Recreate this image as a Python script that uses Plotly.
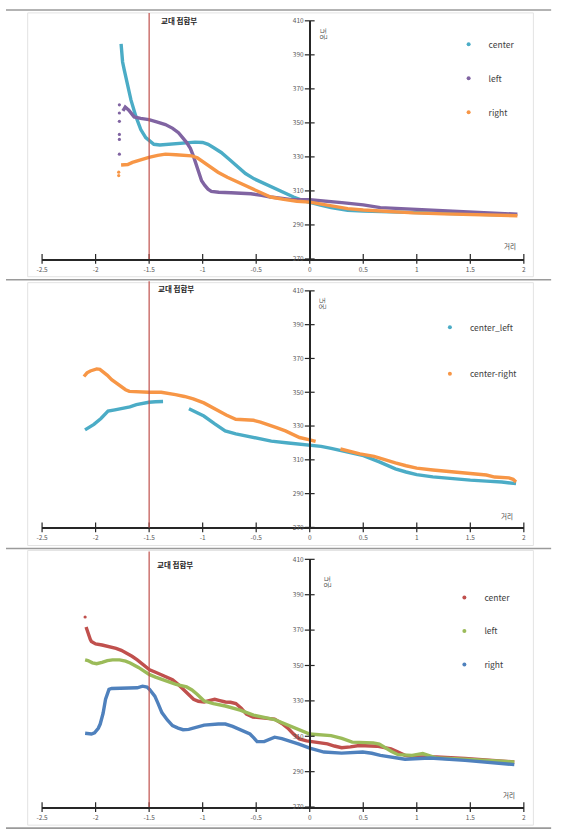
import plotly.graph_objects as go

# ---------------- data ----------------
X_TICKS = [-2.5, -2, -1.5, -1, -0.5, 0, 0.5, 1, 1.5, 2]
X_TICK_LABELS = ["-2.5", "-2", "-1.5", "-1", "-0.5", "0", "0.5", "1", "1.5", "2"]
Y_TICKS = [270, 290, 310, 330, 350, 370, 390, 410]
Y_TICK_LABELS = ["270", "290", "310", "330", "350", "370", "390", "410"]
BOUNDARY_X = -1.5
TITLE_TEXT = "교대 접합부"
X_TITLE = "거리"
Y_TITLE = "온도"

# Panel 1
p1_center_x = [-1.762, -1.748, -1.732, -1.702, -1.67, -1.624, -1.578, -1.532, -1.50, -1.456, -1.40, -1.30,
               -1.195, -1.072, -1.00, -0.949, -0.90, -0.827, -0.75, -0.673, -0.60, -0.519, -0.42, -0.335,
               -0.25, -0.151, -0.07, 0.0, 0.1, 0.2, 0.355, 0.5, 0.75, 0.97, 1.25, 1.5, 1.75, 1.93]
p1_center_y = [396.5, 385.8, 381, 372.3, 363.5, 353.8, 346.1, 341.3, 339.5, 337.4, 337, 337.5,
               338.4, 338.7, 338.5, 337.4, 335.5, 332.6, 328.5, 323.9, 320.2, 317.1, 314.2, 311.3,
               308.8, 306.4, 304.5, 303.2, 301.6, 300.2, 298.6, 298.1, 297.6, 297.1, 296.6, 296.2, 296, 295.8]
p1_left_x = [-1.745, -1.723, -1.69, -1.64, -1.58, -1.502, -1.43, -1.348, -1.28, -1.226, -1.149, -1.115,
             -1.087, -1.06, -1.041, -1.01, -0.98, -0.95, -0.919, -0.85, -0.735, -0.55, -0.45, -0.366,
             -0.182, 0.0, 0.3, 0.5, 0.66, 1.0, 1.3, 1.5, 1.767, 1.94]
p1_left_y = [357, 359.3, 357.5, 353.5, 352.6, 351.9, 350.6, 349, 346.8, 344.2, 338.4, 335,
             330.6, 325.5, 321, 316, 313.2, 311, 309.7, 309.2, 308.9, 308.3, 307.4, 306.4,
             305.0, 304.8, 303.1, 301.8, 300.2, 299.2, 298.3, 297.7, 296.7, 296.3]
p1_left_dots_x = [-1.778, -1.778, -1.778, -1.778, -1.778, -1.778]
p1_left_dots_y = [331.6, 340.3, 343.2, 350.9, 355.8, 360.6]
p1_right_x = [-1.762, -1.70, -1.656, -1.58, -1.502, -1.42, -1.348, -1.25, -1.17, -1.103, -1.05, -1.011,
              -0.93, -0.857, -0.77, -0.673, -0.58, -0.489, -0.43, -0.366, -0.243, -0.12, 0.0, 0.2,
              0.355, 0.5, 0.75, 0.97, 1.25, 1.5, 1.767, 1.94]
p1_right_y = [325.2, 325.5, 326.8, 328.3, 329.7, 330.9, 331.6, 331.3, 330.8, 330.6, 329.5, 327.7,
              324.3, 321, 318, 315.2, 312.4, 309.7, 308, 306.4, 305, 303.9, 303.4, 301.4,
              299.6, 298.8, 297.8, 297.1, 296.5, 296, 295.5, 295.4]
p1_right_dots_x = [-1.784, -1.784]
p1_right_dots_y = [319, 321]

# Panel 2 (None = gap in the series)
p2_cl_x = [-2.099, -2.05, -2.016, -1.95, -1.884, -1.82, -1.751, -1.68, -1.619, -1.56, -1.503, -1.44, -1.37,
           None,
           -1.128, -1.06, -0.989, -0.89, -0.79, -0.69, -0.591, -0.48, -0.359, -0.2, 0.0, 0.106, 0.2,
           0.304, 0.4, 0.502, 0.65, 0.8, 0.9, 0.999, 1.15, 1.297, 1.5, 1.65, 1.794, 1.927]
p2_cl_y = [327.7, 329.7, 331, 334.5, 338.8, 339.6, 340.2, 341.3, 342.7, 343.5, 344.1, 344.4, 344.5,
           None,
           340.2, 338.2, 335.9, 331.4, 327.1, 325.4, 324.2, 322.6, 321.1, 320, 318.8, 318, 316.8,
           315.4, 314, 312.5, 308.8, 304.7, 302.8, 301.2, 299.9, 298.9, 298, 297.4, 296.9, 295.9]
p2_cr_x = [-2.109, -2.08, -2.049, -2.02, -1.99, -1.96, -1.933, -1.89, -1.85, -1.81, -1.768, -1.72, -1.685,
           -1.585, -1.503, -1.387, -1.32, -1.254, -1.17, -1.088, -0.989, -0.92, -0.857, -0.78, -0.691,
           -0.60, -0.525, -0.46, -0.393, -0.31, -0.227, -0.16, -0.095, 0.0, 0.055,
           None,
           0.287, 0.38, 0.469, 0.601, 0.7, 0.8, 0.9, 0.999, 1.15, 1.297, 1.45, 1.562, 1.65, 1.728,
           1.8, 1.861, 1.9, 1.927]
p2_cr_y = [359.3, 361.5, 362.6, 363.4, 363.8, 363.5, 362.2, 360, 357.4, 355.5, 353.5, 351.5, 350.5,
           350, 350, 350, 349.4, 348.6, 347.5, 346.1, 343.7, 341.2, 338.8, 336.5, 334,
           333.8, 333.4, 332.3, 331, 329, 327.1, 325.2, 323.2, 321.8, 320.9,
           None,
           316.4, 315, 313.5, 312.1, 310, 308.2, 306.5, 305.1, 304, 303.2, 302.5, 301.8, 301, 299.8,
           299.5, 299.3, 298.5, 296.9]

# Panel 3
p3_center_dots_x = [-2.098]
p3_center_dots_y = [377.4]
p3_center_x = [-2.089, -2.075, -2.065, -2.05, -2.039, -2.0, -1.94, -1.87, -1.809, -1.76, -1.71, -1.66,
               -1.611, -1.55, -1.496, -1.44, -1.381, -1.33, -1.282, -1.23, -1.183, -1.13, -1.085, -1.04,
               -0.986, -0.94, -0.887, -0.84, -0.788, -0.74, -0.69, -0.64, -0.591, -0.53, -0.459, -0.39,
               -0.328, -0.26, -0.196, -0.15, -0.097, -0.03, 0.034, 0.166, 0.23, 0.298, 0.38, 0.462,
               0.627, 0.7, 0.759, 0.82, 0.89, 0.989, 1.187, 1.45, 1.7, 1.911]
p3_center_y = [371.8, 369, 367.2, 364.8, 363.5, 362.2, 361.6, 360.8, 359.7, 358.6, 357, 355.2,
               353.2, 350.4, 347.6, 346.2, 344.8, 343.6, 342, 339.4, 336.5, 333.5, 330.9, 329.8,
               329.4, 330.2, 330.9, 330.2, 329.4, 329.2, 328.5, 325.8, 322.5, 320.9, 320.6, 320.4,
               319.7, 317.2, 314.1, 311.2, 308.5, 307.4, 307, 305.7, 304.5, 303.5, 304, 304.8,
               304.4, 303.8, 302.9, 301.2, 299.2, 298.3, 298.3, 297.4, 296.3, 295.5]
p3_left_x = [-2.098, -2.072, -2.03, -1.99, -1.94, -1.89, -1.842, -1.776, -1.72, -1.677, -1.6, -1.55,
             -1.496, -1.44, -1.381, -1.31, -1.249, -1.15, -1.10, -1.052, -0.986, -0.9, -0.788, -0.65,
             -0.525, -0.328, -0.196, -0.1, 0.0, 0.199, 0.3, 0.397, 0.594, 0.65, 0.693, 0.76, 0.825,
             0.956, 1.055, 1.12, 1.187, 1.45, 1.7, 1.911]
p3_left_y = [353.2, 352.8, 351.5, 351, 351.8, 352.8, 353.2, 353.2, 352.5, 351.4, 348.9, 346.8,
             344.8, 343.4, 342, 340.8, 339.3, 337.9, 336.2, 333.7, 329.9, 328.5, 327.1, 324.8,
             322, 319.4, 316, 313.6, 311.3, 310.4, 308.8, 306.7, 306.3, 305.6, 303.9, 301.5, 299.6,
             299.2, 300.2, 298.8, 297.7, 297, 296.1, 295.5]
p3_right_x = [-2.098, -2.07, -2.039, -2.01, -1.99, -1.975, -1.957, -1.93, -1.907, -1.89, -1.875, -1.85,
              -1.776, -1.7, -1.611, -1.562, -1.52, -1.496, -1.47, -1.447, -1.42, -1.381, -1.33, -1.282,
              -1.23, -1.183, -1.13, -1.085, -0.986, -0.854, -0.788, -0.72, -0.657, -0.558, -0.52,
              -0.492, -0.426, -0.38, -0.328, -0.26, -0.196, -0.1, 0.0, 0.133, 0.298, 0.495, 0.58,
              0.66, 0.89, 1.121, 1.45, 1.7, 1.911]
p3_right_y = [311.7, 311.4, 311.3, 312, 313.2, 314.5, 316.9, 323, 330.9, 334.5, 336.5, 337,
              337, 337.2, 337.4, 338.3, 337.8, 336.5, 334.8, 332.7, 329, 323.4, 319.2, 316,
              314.6, 313.7, 313.9, 314.5, 316.3, 316.9, 316.9, 315.6, 314.1, 311.3, 309,
              307, 307, 308.4, 309.5, 308.7, 307.6, 305.6, 303.3, 301.1, 300.5, 301.1, 300.4,
              299.2, 297, 297.7, 296.4, 295.2, 294]

# ---------------- styling ----------------
W, H = 563, 840
TEAL, PURPLE, ORANGE = "#4BACC6", "#8064A2", "#F79646"
RED, GREEN, BLUE = "#C0504D", "#9BBB59", "#4F81BD"
AXIS_COLOR = "#262626"
FONT = "Noto Sans CJK KR"
LW = 3.4

def py(px):
    return 1 - px / H

def pxx(px):
    return px / W

X_DOMAIN = [pxx(36.6), pxx(525.3)]
Y_AXIS_POS = pxx(308.1)
PANELS = [
    dict(top=15, bot=256, box_top=7, box_bot=274, leg_x=449, leg_y=24, gap=15,
         title=(175, 15), ytitle=(321.5, 28.5), xtitle=(511, 243), red_top=7),
    dict(top=288.3, bot=527.7, box_top=280, box_bot=546, leg_x=430, leg_y=310.5, gap=27.5,
         title=(172, 286), ytitle=(320.6, 301), xtitle=(508, 515.7), red_top=278.5),
    dict(top=560, bot=810.7, box_top=551, box_bot=829, leg_x=444.7, leg_y=584, gap=14.5,
         title=(171, 565.7), ytitle=(325, 582.5), xtitle=(510, 798), red_top=552),
]

series = [
    [("center", TEAL, p1_center_x, p1_center_y, None, None),
     ("left", PURPLE, p1_left_x, p1_left_y, p1_left_dots_x, p1_left_dots_y),
     ("right", ORANGE, p1_right_x, p1_right_y, p1_right_dots_x, p1_right_dots_y)],
    [("center_left", TEAL, p2_cl_x, p2_cl_y, None, None),
     ("center-right", ORANGE, p2_cr_x, p2_cr_y, None, None)],
    [("center", RED, p3_center_x, p3_center_y, p3_center_dots_x, p3_center_dots_y),
     ("left", GREEN, p3_left_x, p3_left_y, None, None),
     ("right", BLUE, p3_right_x, p3_right_y, None, None)],
]

fig = go.Figure()
shapes = []
annotations = []
layout = {}

def note(text, xpx, ypx, size, color, angle=0):
    return dict(text=text, x=pxx(xpx), y=py(ypx), xref="paper", yref="paper",
                xanchor="center", yanchor="middle", showarrow=False, textangle=angle,
                font=dict(size=size, color=color, family=FONT))

for i, (panel, ser) in enumerate(zip(PANELS, series), start=1):
    xs = "x" if i == 1 else f"x{i}"
    ys = "y" if i == 1 else f"y{i}"
    leg = "legend" if i == 1 else f"legend{i}"
    for k, (name, color, x, y, dx, dy) in enumerate(ser):
        fig.add_trace(go.Scatter(x=x, y=y, mode="lines", line=dict(color=color, width=LW),
                                 xaxis=xs, yaxis=ys, showlegend=False, legendgroup=f"{i}{k}",
                                 hoverinfo="skip"))
        if dx is not None:
            fig.add_trace(go.Scatter(x=dx, y=dy, mode="markers",
                                     marker=dict(color=color, size=3.2),
                                     xaxis=xs, yaxis=ys, showlegend=False, hoverinfo="skip"))
        fig.add_trace(go.Scatter(x=[None], y=[None], mode="markers", name=name,
                                 marker=dict(color=color, size=4),
                                 xaxis=xs, yaxis=ys, legend=leg, legendgroup=f"{i}{k}",
                                 showlegend=True))
    # crossing tick marks
    fig.add_trace(go.Scatter(x=[0] * len(Y_TICKS), y=Y_TICKS, mode="markers",
                             marker=dict(symbol="line-ew", size=7, line=dict(color=AXIS_COLOR, width=1.2)),
                             xaxis=xs, yaxis=ys, showlegend=False, cliponaxis=False, hoverinfo="skip"))
    fig.add_trace(go.Scatter(x=X_TICKS, y=[Y_TICKS[0]] * len(X_TICKS), mode="markers",
                             marker=dict(symbol="line-ns", size=7, line=dict(color=AXIS_COLOR, width=1.2)),
                             xaxis=xs, yaxis=ys, showlegend=False, cliponaxis=False, hoverinfo="skip"))

    xname = "xaxis" if i == 1 else f"xaxis{i}"
    yname = "yaxis" if i == 1 else f"yaxis{i}"
    layout[xname] = dict(domain=X_DOMAIN, range=[-2.5, 2], anchor=ys, tickmode="array",
                         tickvals=X_TICKS, ticktext=X_TICK_LABELS, ticks="", showline=True,
                         linecolor=AXIS_COLOR, linewidth=1.5, showgrid=False, zeroline=False,
                         tickfont=dict(size=6.5, color="#595959", family=FONT), ticklabelstandoff=3,
                         fixedrange=True)
    layout[yname] = dict(domain=[py(panel["bot"]), py(panel["top"])], range=[270, 410],
                         anchor="free", position=Y_AXIS_POS, tickmode="array",
                         tickvals=Y_TICKS, ticktext=Y_TICK_LABELS, ticks="", showline=True,
                         linecolor=AXIS_COLOR, linewidth=1.5, showgrid=False, zeroline=False,
                         tickfont=dict(size=6.5, color="#595959", family=FONT), ticklabelstandoff=4,
                         fixedrange=True)
    layout[leg] = dict(x=pxx(panel["leg_x"]), y=py(panel["leg_y"]), xanchor="left", yanchor="top",
                       bgcolor="rgba(0,0,0,0)", font=dict(size=8.5, color="#404040", family=FONT),
                       tracegroupgap=panel["gap"], traceorder="grouped")

    shapes.append(dict(type="rect", xref="paper", yref="paper", x0=pxx(22), x1=pxx(535),
                       y0=py(panel["box_bot"]), y1=py(panel["box_top"]),
                       line=dict(color="#E3E3E3", width=1), layer="below"))
    shapes.append(dict(type="line", xref=xs, yref="paper", x0=BOUNDARY_X, x1=BOUNDARY_X,
                       y0=py(panel["bot"]), y1=py(panel["red_top"]),
                       line=dict(color="#C0504D", width=1.2)))
    tx, ty = panel["title"]
    annotations.append(note(f"<b>{TITLE_TEXT}</b>", tx, ty, 7.5, "#262626"))
    yx, yy = panel["ytitle"]
    annotations.append(note(Y_TITLE, yx, yy, 6.5, "#404040", angle=-90))
    xx, xy = panel["xtitle"]
    annotations.append(note(X_TITLE, xx, xy, 6.5, "#404040"))

for ypx in [4, 277, 549, 832]:
    shapes.append(dict(type="line", xref="paper", yref="paper", x0=0, x1=pxx(553), y0=py(ypx), y1=py(ypx),
                       line=dict(color="#9A9A9A", width=1.6)))

fig.update_layout(width=W, height=H, margin=dict(l=0, r=0, t=0, b=0),
                  paper_bgcolor="white", plot_bgcolor="rgba(0,0,0,0)",
                  font=dict(family=FONT), shapes=shapes, annotations=annotations, **layout)

fig.write_html("out.html", config={"displayModeBar": False},
               post_script="document.body.style.margin='0';document.body.style.overflow='hidden';")
